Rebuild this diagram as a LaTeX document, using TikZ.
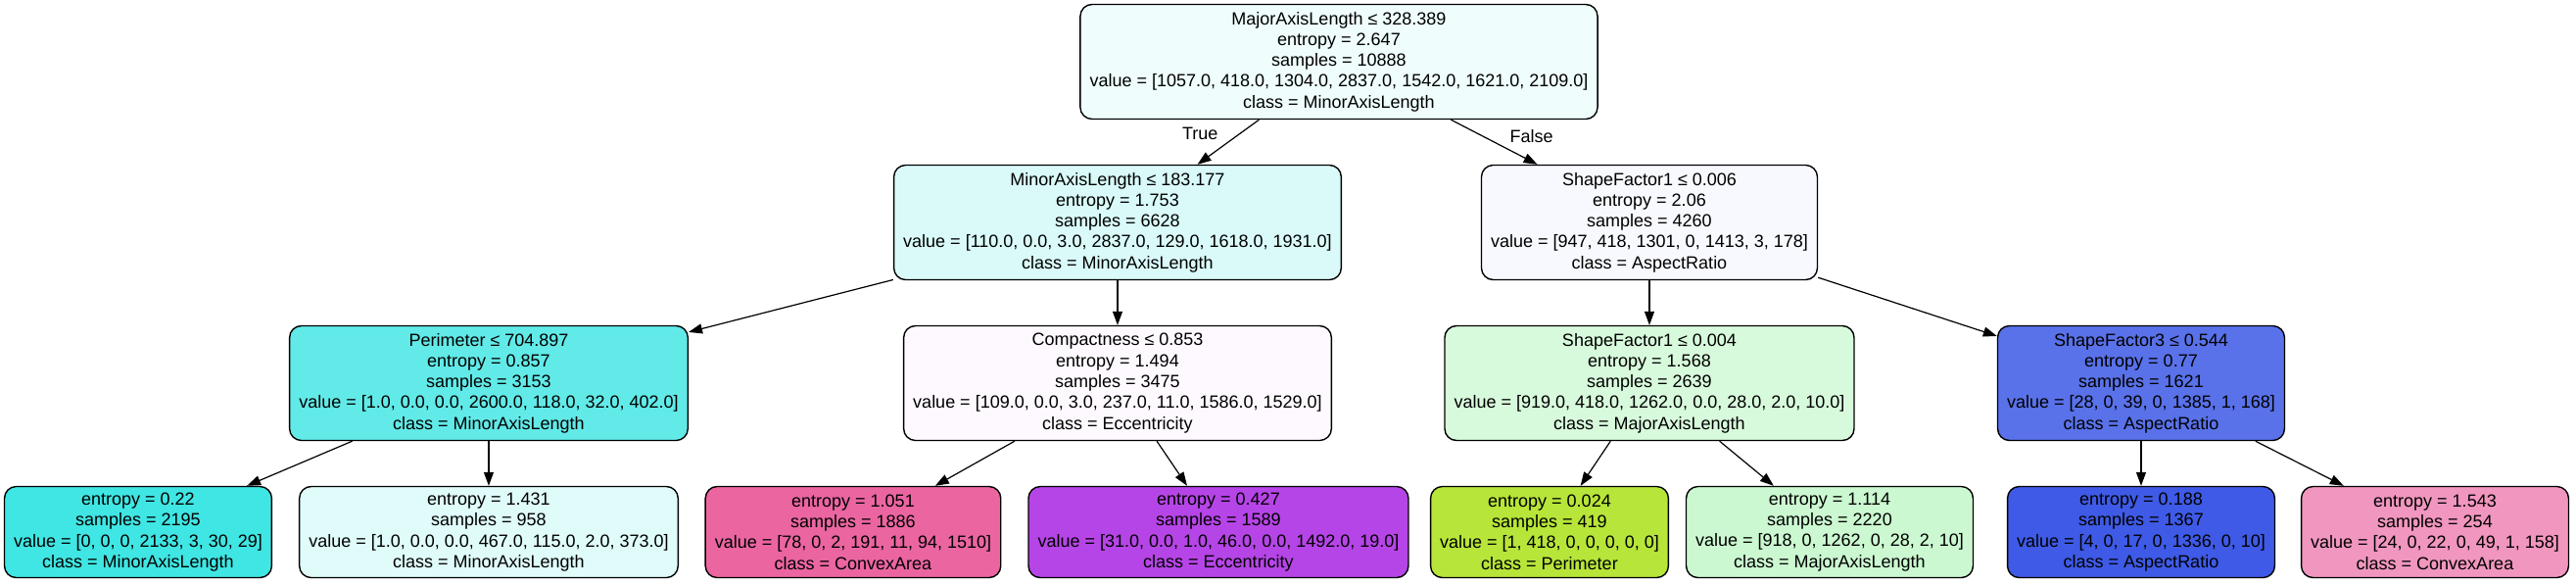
\documentclass[tikz,border=0pt]{standalone}
\usepackage{fontspec}
\setmainfont{Liberation Sans}
\usetikzlibrary{arrows.meta}

\definecolor{croot}{HTML}{EFFDFD}
\definecolor{cminor}{HTML}{D9FAF9}
\definecolor{cshapeA}{HTML}{F8F9FE}
\definecolor{cperim}{HTML}{61EAE8}
\definecolor{ccompact}{HTML}{FDF9FE}
\definecolor{cshapeB}{HTML}{D8FADC}
\definecolor{cshapeC}{HTML}{5971E9}
\definecolor{cleafA}{HTML}{3FE6E3}
\definecolor{cleafB}{HTML}{DFFBFA}
\definecolor{cleafC}{HTML}{EB65A1}
\definecolor{cleafD}{HTML}{B645E7}
\definecolor{cleafE}{HTML}{B7E539}
\definecolor{cleafF}{HTML}{CBF8D0}
\definecolor{cleafG}{HTML}{3E5AE6}
\definecolor{cleafH}{HTML}{F196BF}

\tikzstyle{split} = [rectangle, rounded corners=6pt, minimum height=58.5pt, inner xsep=4.8pt, inner ysep=2pt, align=center, draw=black, line width=0.7pt, font=\fontsize{9}{10.65}\selectfont]
\tikzstyle{leaf} = [rectangle, rounded corners=6pt, minimum height=46.5pt, inner xsep=4.8pt, inner ysep=2pt, align=center, draw=black, line width=0.7pt, font=\fontsize{9}{10.65}\selectfont]
\tikzstyle{arrow} = [line width=0.6pt, -{Triangle[length=7pt,width=5pt]}]
\tikzstyle{edgelabel} = [font=\fontsize{9}{10.65}\selectfont, inner sep=0pt]

\begin{document}
\begin{tikzpicture}[node distance=82pt]
\useasboundingbox (-683.5pt,31.5pt) rectangle (631.5pt,-266.5pt);

\node (root) [split, fill=croot] {MajorAxisLength ≤ 328.389\\entropy = 2.647\\samples = 10888\\value = [1057.0, 418.0, 1304.0, 2837.0, 1542.0, 1621.0, 2109.0]\\class = MinorAxisLength};
\node (minor) [split, fill=cminor, below of=root, xshift=-113pt] {MinorAxisLength ≤ 183.177\\entropy = 1.753\\samples = 6628\\value = [110.0, 0.0, 3.0, 2837.0, 129.0, 1618.0, 1931.0]\\class = MinorAxisLength};
\node (shapeA) [split, fill=cshapeA, below of=root, xshift=158.5pt] {ShapeFactor1 ≤ 0.006\\entropy = 2.06\\samples = 4260\\value = [947, 418, 1301, 0, 1413, 3, 178]\\class = AspectRatio};

\node (perim) [split, fill=cperim, below of=minor, xshift=-321pt] {Perimeter ≤ 704.897\\entropy = 0.857\\samples = 3153\\value = [1.0, 0.0, 0.0, 2600.0, 118.0, 32.0, 402.0]\\class = MinorAxisLength};
\node (compact) [split, fill=ccompact, below of=minor] {Compactness ≤ 0.853\\entropy = 1.494\\samples = 3475\\value = [109.0, 0.0, 3.0, 237.0, 11.0, 1586.0, 1529.0]\\class = Eccentricity};
\node (shapeB) [split, fill=cshapeB, below of=shapeA] {ShapeFactor1 ≤ 0.004\\entropy = 1.568\\samples = 2639\\value = [919.0, 418.0, 1262.0, 0.0, 28.0, 2.0, 10.0]\\class = MajorAxisLength};
\node (shapeC) [split, fill=cshapeC, below of=shapeA, xshift=251pt] {ShapeFactor3 ≤ 0.544\\entropy = 0.77\\samples = 1621\\value = [28, 0, 39, 0, 1385, 1, 168]\\class = AspectRatio};

% leaves
\node (leafA) [leaf, fill=cleafA, below of=perim, xshift=-179pt, yshift=6pt] {entropy = 0.22\\samples = 2195\\value = [0, 0, 0, 2133, 3, 30, 29]\\class = MinorAxisLength};
\node (leafB) [leaf, fill=cleafB, below of=perim, yshift=6pt] {entropy = 1.431\\samples = 958\\value = [1.0, 0.0, 0.0, 467.0, 115.0, 2.0, 373.0]\\class = MinorAxisLength};
\node (leafC) [leaf, fill=cleafC, below of=compact, xshift=-135pt, yshift=6pt] {entropy = 1.051\\samples = 1886\\value = [78, 0, 2, 191, 11, 94, 1510]\\class = ConvexArea};
\node (leafD) [leaf, fill=cleafD, below of=compact, xshift=51.5pt, yshift=6pt] {entropy = 0.427\\samples = 1589\\value = [31.0, 0.0, 1.0, 46.0, 0.0, 1492.0, 19.0]\\class = Eccentricity};
\node (leafE) [leaf, fill=cleafE, below of=shapeB, xshift=-51pt, yshift=6pt] {entropy = 0.024\\samples = 419\\value = [1, 418, 0, 0, 0, 0, 0]\\class = Perimeter};
\node (leafF) [leaf, fill=cleafF, below of=shapeB, xshift=92pt, yshift=6pt] {entropy = 1.114\\samples = 2220\\value = [918, 0, 1262, 0, 28, 2, 10]\\class = MajorAxisLength};
\node (leafG) [leaf, fill=cleafG, below of=shapeC, yshift=6pt] {entropy = 0.188\\samples = 1367\\value = [4, 0, 17, 0, 1336, 0, 10]\\class = AspectRatio};
\node (leafH) [leaf, fill=cleafH, below of=shapeC, xshift=150pt, yshift=6pt] {entropy = 1.543\\samples = 254\\value = [24, 0, 22, 0, 49, 1, 158]\\class = ConvexArea};

% Arrows
\draw [arrow] (root) -- node[edgelabel, pos=0.31, left=11pt] {True} (minor);
\draw [arrow] (root) -- node[edgelabel, pos=0.36, right=14pt] {False} (shapeA);
\draw [arrow] (minor) -- (perim);
\draw [arrow] (minor) -- (compact);
\draw [arrow] (shapeA) -- (shapeB);
\draw [arrow] (shapeA) -- (shapeC);
\draw [arrow] (perim) -- (leafA);
\draw [arrow] (perim) -- (leafB);
\draw [arrow] (compact) -- (leafC);
\draw [arrow] (compact) -- (leafD);
\draw [arrow] (shapeB) -- (leafE);
\draw [arrow] (shapeB) -- (leafF);
\draw [arrow] (shapeC) -- (leafG);
\draw [arrow] (shapeC) -- (leafH);

\end{tikzpicture}
\end{document}
